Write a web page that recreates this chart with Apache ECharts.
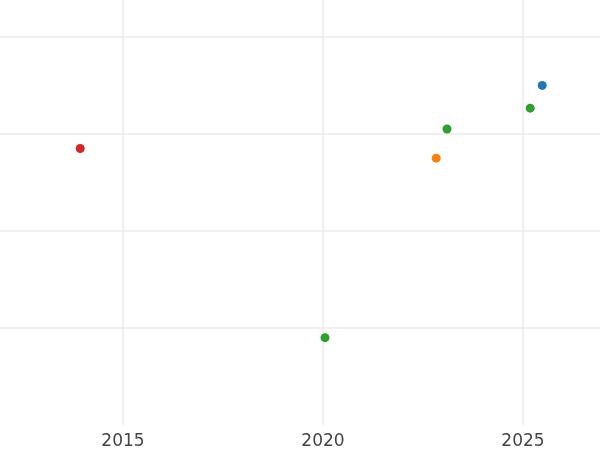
<!DOCTYPE html>
<html><head><meta charset="utf-8">
<script src="https://cdn.jsdelivr.net/npm/echarts@6/dist/echarts.min.js"></script>
<style>html,body{margin:0;padding:0;background:#fff}#c{width:600px;height:450px}</style>
</head><body><div id="c"></div>
<script>
const xTicks = [2015, 2020, 2025];
const redPts = [[2013.93, 2.85]];
const bluePts = [[2025.48, 3.50]];
const greenPts = [[2025.18, 3.265], [2023.1, 3.05], [2020.05, 0.9]];
const orangePts = [[2022.83, 2.75]];

const chart = echarts.init(document.getElementById('c'));
const mk = (data, color) => ({type:'scatter', data, symbolSize:9, itemStyle:{color, opacity:1}, emphasis:{disabled:true}});
chart.setOption({
  animation:false,
  grid:{left:0, right:0, top:0, bottom:23, containLabel:false},
  xAxis:{type:'value', min:2011.925, max:2026.925,
    axisLine:{show:false},
    axisTick:{show:false, customValues: xTicks},
    axisLabel:{fontSize:17, color:'#444', fontFamily:'DejaVu Sans', margin:8,
      customValues: xTicks, formatter: v => String(v)},
    splitLine:{show:true, lineStyle:{color:'#ebebeb', width:1.5}}
  },
  yAxis:{type:'value', min:0, max:4.38, interval:1,
    axisLine:{show:false}, axisTick:{show:false}, axisLabel:{show:false},
    splitLine:{show:true, showMinLine:false, showMaxLine:false, lineStyle:{color:'#ebebeb', width:1.5}}
  },
  series:[mk(redPts,'#d62728'), mk(bluePts,'#1f77b4'), mk(greenPts,'#2ca02c'), mk(orangePts,'#ff7f0e')]
});
</script></body></html>
